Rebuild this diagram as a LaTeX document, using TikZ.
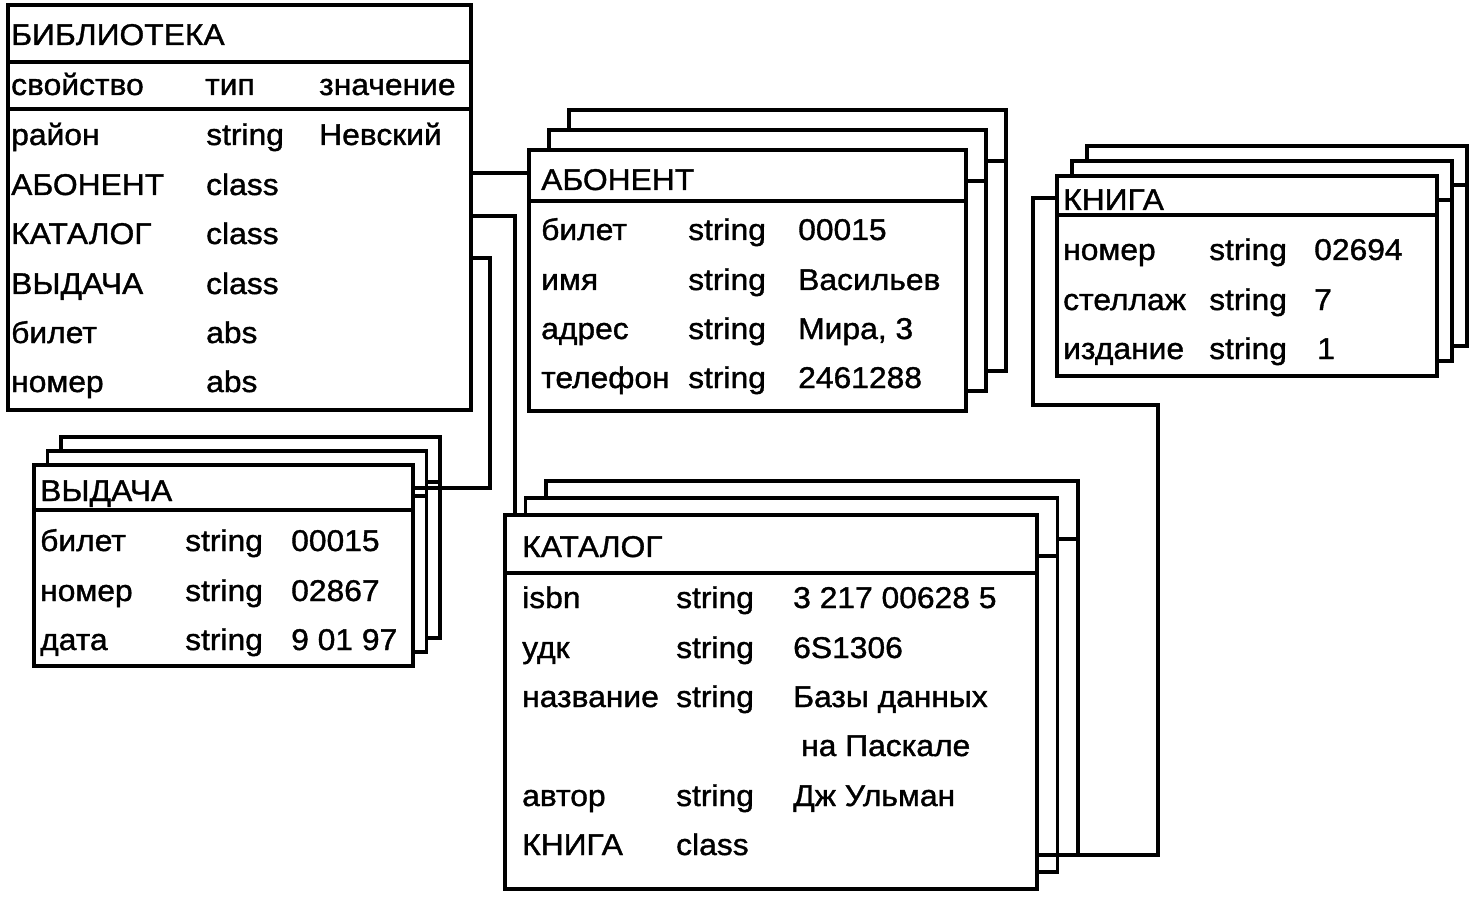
\documentclass[tikz,border=0pt]{standalone}
\usepackage{fontspec}
\setmainfont{Liberation Sans}[FakeStretch=1.06, FakeBold=1.2]
\begin{document}
\begin{tikzpicture}[x=1pt,y=-1pt,
  box/.style={draw, fill=white, line width=3.2pt, inner sep=0pt, outer sep=0pt, anchor=north west},
  ln/.style={line width=3.2pt},
  conn/.style={line width=3.2pt, line join=miter},
  txt/.style={anchor=base west, inner sep=0pt, font=\fontsize{30}{32}\selectfont}]
\useasboundingbox[fill=white] (0,0) rectangle (1483,901);
% #1 name, #2 x, #3 y, #4 w, #5 h, #6 header height, #7 dx, #8 dy (up)
\newcommand\stackbox[8]{%
  \foreach \k in {2,1}{%
    \node[box, minimum width=#4pt, minimum height=#5pt] (#1\k) at (#2+\k*#7, #3-\k*#8) {};
    \draw[ln] ([yshift=-#6pt]#1\k.north west) -- ([yshift=-#6pt]#1\k.north east);
  }%
  \node[box, minimum width=#4pt, minimum height=#5pt] (#1) at (#2,#3) {};
  \draw[ln] ([yshift=-#6pt]#1.north west) -- ([yshift=-#6pt]#1.north east);
}
% ---------------- БИБЛИОТЕКА
\node[box, minimum width=463pt, minimum height=405pt] (lib) at (8,5) {};
\draw[ln] ([yshift=-57pt]lib.north west) -- ([yshift=-57pt]lib.north east);
\draw[ln] ([yshift=-104pt]lib.north west) -- ([yshift=-104pt]lib.north east);
\node[txt] (lib-t) at (11,45) {БИБЛИОТЕКА};
\node[txt] (lib-h1) at (11,95) {свойство};
\node[txt] (lib-h2) at (205,95) {тип};
\node[txt] (lib-h3) at (319,95) {значение};
\node[txt] (lib-a1) at (11,145) {район};
\node[txt] (lib-b1) at (206,145) {string};
\node[txt] (lib-c1) at (319,145) {Невский};
\node[txt] (lib-a2) at (11,195) {АБОНЕНТ};
\node[txt] (lib-b2) at (206,195) {class};
\node[txt] (lib-a3) at (11,244) {КАТАЛОГ};
\node[txt] (lib-b3) at (206,244) {class};
\node[txt] (lib-a4) at (11,294) {ВЫДАЧА};
\node[txt] (lib-b4) at (206,294) {class};
\node[txt] (lib-a5) at (11,343) {билет};
\node[txt] (lib-b5) at (206,343) {abs};
\node[txt] (lib-a6) at (11,392) {номер};
\node[txt] (lib-b6) at (206,392) {abs};
% ---------------- АБОНЕНТ
\stackbox{ab}{529}{150}{437}{261}{51}{20}{20}
\node[txt] (ab-t) at (541,190) {АБОНЕНТ};
\node[txt] (ab-a1) at (541,240) {билет};
\node[txt] (ab-b1) at (688,240) {string};
\node[txt] (ab-c1) at (798,240) {00015};
\node[txt] (ab-a2) at (541,290) {имя};
\node[txt] (ab-b2) at (688,290) {string};
\node[txt] (ab-c2) at (798,290) {Васильев};
\node[txt] (ab-a3) at (541,339) {адрес};
\node[txt] (ab-b3) at (688,339) {string};
\node[txt] (ab-c3) at (798,339) {Мира, 3};
\node[txt] (ab-a4) at (541,388) {телефон};
\node[txt] (ab-b4) at (688,388) {string};
\node[txt] (ab-c4) at (798,388) {2461288};
% ---------------- КНИГА
\stackbox{kn}{1057}{176}{380}{200}{39}{15}{15}
\node[txt] (kn-t) at (1063,210) {КНИГА};
\node[txt] (kn-a1) at (1063,260) {номер};
\node[txt] (kn-b1) at (1209,260) {string};
\node[txt] (kn-c1) at (1314,260) {02694};
\node[txt] (kn-a2) at (1063,310) {стеллаж};
\node[txt] (kn-b2) at (1209,310) {string};
\node[txt] (kn-c2) at (1314,310) {7};
\node[txt] (kn-a3) at (1063,359) {издание};
\node[txt] (kn-b3) at (1209,359) {string};
\node[txt] (kn-c3) at (1317,359) {1};
% ---------------- ВЫДАЧА
\stackbox{vy}{34}{465}{379}{201}{45}{13.5}{14}
\node[txt] (vy-t) at (40,501) {ВЫДАЧА};
\node[txt] (vy-a1) at (40,551) {билет};
\node[txt] (vy-b1) at (185,551) {string};
\node[txt] (vy-c1) at (291,551) {00015};
\node[txt] (vy-a2) at (40,601) {номер};
\node[txt] (vy-b2) at (185,601) {string};
\node[txt] (vy-c2) at (291,601) {02867};
\node[txt] (vy-a3) at (40,650) {дата};
\node[txt] (vy-b3) at (185,650) {string};
\node[txt] (vy-c3) at (291,650) {9 01 97};
% ---------------- КАТАЛОГ
\stackbox{ka}{505}{515}{532}{374}{58}{20.5}{17}
\node[txt] (ka-t) at (522,557) {КАТАЛОГ};
\node[txt] (ka-a1) at (522,608) {isbn};
\node[txt] (ka-b1) at (676,608) {string};
\node[txt] (ka-c1) at (793,608) {3 217 00628 5};
\node[txt] (ka-a2) at (522,658) {удк};
\node[txt] (ka-b2) at (676,658) {string};
\node[txt] (ka-c2) at (793,658) {6S1306};
\node[txt] (ka-a3) at (522,707) {название};
\node[txt] (ka-b3) at (676,707) {string};
\node[txt] (ka-c3) at (793,707) {Базы данных};
\node[txt] (ka-c3b) at (801,756) {на Паскале};
\node[txt] (ka-a5) at (522,806) {автор};
\node[txt] (ka-b5) at (676,806) {string};
\node[txt] (ka-c5) at (793,806) {Дж Ульман};
\node[txt] (ka-a6) at (522,855) {КНИГА};
\node[txt] (ka-b6) at (676,855) {class};
% ---------------- connectors
\draw[conn] (lib.east |- 0,173) -- (ab.west |- 0,173);
\draw[conn] (lib.east |- 0,216) -| (ka.north west -| 515,0);
\draw[conn] (lib.east |- 0,258) -| (490,488) -- (vy.east |- 0,488);
\draw[conn] (ka.east |- 0,855) -| (1158,405) -| (1033,198) -- (kn.west |- 0,198);
\end{tikzpicture}
\end{document}
